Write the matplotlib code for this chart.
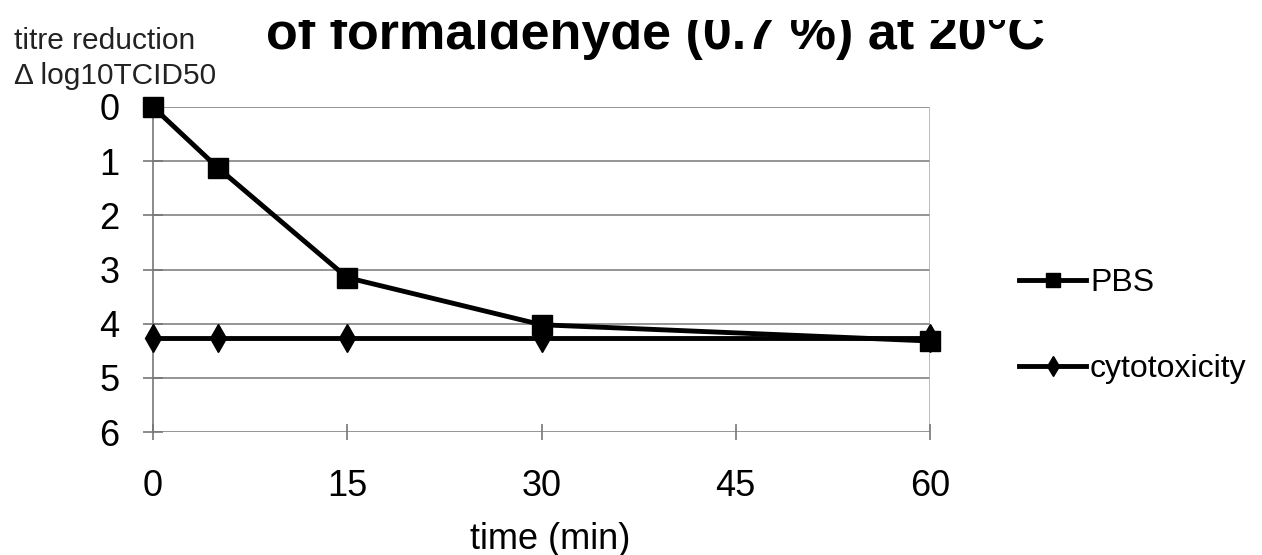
import matplotlib
matplotlib.use("Agg")
import matplotlib.pyplot as plt
from matplotlib.transforms import Bbox

plt.rcParams['font.family'] = ['Liberation Sans', 'DejaVu Sans']

time_min = [0, 5, 15, 30, 60]
pbs = [0, 1.12, 3.15, 4.02, 4.32]
cytotox = [4.26, 4.26, 4.26, 4.26, 4.26]
x_ticks = [0, 15, 30, 45, 60]
y_ticks = [0, 1, 2, 3, 4, 5, 6]

W, H = 1262, 555
fig = plt.figure(figsize=(W / 100, H / 100), dpi=100)
ax = fig.add_axes([153 / W, 1 - 432 / H, 777 / W, 325 / H])

for y in y_ticks:
    ax.axhline(y, color='#959595', lw=1.4, zorder=1)
ax.axvline(60, color='#b0b0b0', lw=1.2, zorder=1)

ax.plot(time_min, cytotox, color='black', lw=3.5, marker='d', ms=14,
        label='cytotoxicity', zorder=3, clip_on=False)
ax.plot(time_min, pbs, color='black', lw=3.5, marker='s', ms=15,
        label='PBS', zorder=4, clip_on=False)

ax.set_xlim(0, 60)
ax.set_ylim(6, 0)
ax.set_xticks(x_ticks)
ax.set_yticks(y_ticks)
ax.tick_params(axis='x', labelsize=26, length=11, width=1.2, pad=21,
               direction='inout', color='#777777')
ax.tick_params(axis='y', labelsize=26, length=14, width=1.2, pad=17,
               direction='inout', color='#777777')
for s in ['top', 'right', 'bottom']:
    ax.spines[s].set_visible(False)
ax.spines['left'].set_color('#777777')
ax.spines['left'].set_linewidth(1.2)

ax.set_xlabel('time (min)', fontsize=26, labelpad=13, x=(550 - 153) / 777)

fig.text(14 / W, 1 - 49 / H, 'titre reduction', fontsize=21.5,
         color='#222222', va='baseline', ha='left')
fig.text(14 / W, 1 - 84 / H, '\u0394 log10TCID50', fontsize=21.5,
         color='#222222', va='baseline', ha='left')

# title is cut off at the top in the original
title = fig.text(655 / W, 1 - 49 / H, 'of formaldehyde (0.7 %) at 20\u00b0C',
                 fontsize=37.5, weight='bold', ha='center', va='baseline')
title.set_clip_box(Bbox([[0, 0], [W, H - 20]]))
title.set_clip_on(True)

handles, labels = ax.get_legend_handles_labels()
ax.legend(handles[::-1], labels[::-1], loc='center left',
          bbox_to_anchor=(1019 / W, 1 - 326 / H), bbox_transform=fig.transFigure,
          frameon=False, fontsize=23, handlelength=2.1, handletextpad=0.12,
          labelspacing=1.75, markerscale=0.7, borderpad=0, borderaxespad=0)

fig.savefig('out.png', dpi=100)
